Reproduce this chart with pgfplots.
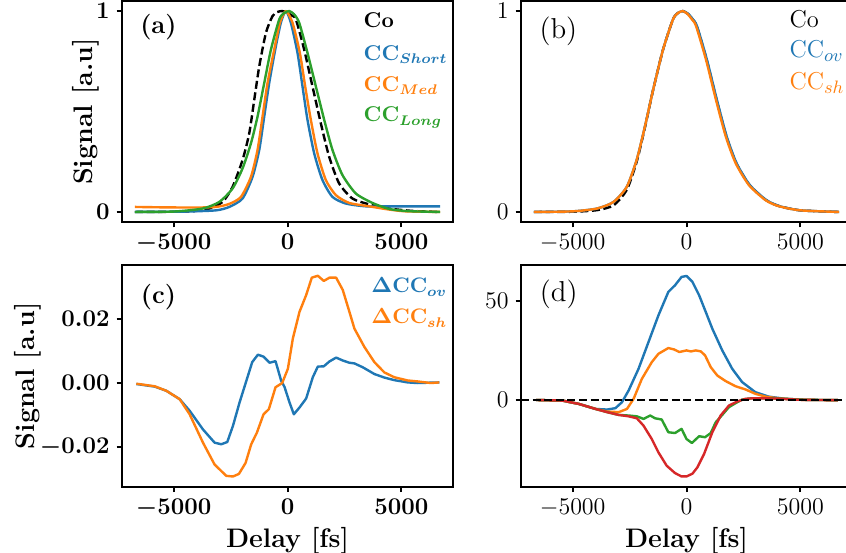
\documentclass[border=0pt]{standalone}
\usepackage{pgfplots}
\pgfplotsset{compat=1.18}
\definecolor{tabblue}{HTML}{1F77B4}
\definecolor{taborange}{HTML}{FF7F0E}
\definecolor{tabgreen}{HTML}{2CA02C}
\definecolor{tabred}{HTML}{D62728}
\pgfplotsset{
  base/.style={scale only axis, width=165.5pt, xmin=-7270, xmax=7270,
    xtick={-5000,0,5000}, axis line style={line width=1.3pt},
    every tick/.style={line width=1.0pt, black}, major tick length=2.7pt,
    tick align=outside, tick pos=left, /pgf/number format/1000 sep={},
    every axis plot/.append style={line width=1.2pt, line join=round}},
  boldtick/.style={tick label style={font=\fontsize{11.7}{14}\selectfont\boldmath}},
  regtick/.style={tick label style={font=\fontsize{12.9}{15}\selectfont}},
  ylab/.style={ylabel={Signal [a.u]}, ylabel style={font=\fontsize{13.4}{16}\selectfont\bfseries, at={(axis description cs:#1,0.5)}, anchor=center}},
  xlab/.style={xlabel={Delay [fs]}, xlabel style={font=\fontsize{13.4}{16}\selectfont\bfseries, at={(axis description cs:0.5,-0.245)}, anchor=center}},
}
\begin{document}
\begin{tikzpicture}
\useasboundingbox (0,0) rectangle (423pt,276pt);
% ---------------- (a)
\begin{axis}[base, boldtick, ylab=-0.109, at={(61pt,165pt)}, anchor=south west, height=110.5pt,
  ymin=-0.05, ymax=1.05, ytick={0,1}]
\addplot[black, dashed, dash pattern=on 4pt off 1.8pt, smooth, tension=0.4] coordinates {
(-6700,0) (-5000,0.001) (-4019,0.005) (-3434,0.017) (-2851,0.05) (-2412,0.125) (-1974,0.259)
(-1680,0.392) (-1460,0.559) (-1241,0.725) (-947,0.892) (-658,0.975) (-450,0.995) (-250,1.0)
(-50,0.995) (150,0.98) (368,0.958) (732,0.808) (1097,0.625) (1462,0.442) (1829,0.275)
(2268,0.142) (2851,0.067) (3583,0.038) (4460,0.017) (5500,0.005) (6700,0)};
\addplot[tabblue, smooth, tension=0.4] coordinates {
(-6700,0) (-4500,0.002) (-3140,0.008) (-2558,0.025) (-1974,0.067) (-1535,0.175) (-1241,0.309)
(-1022,0.475) (-803,0.642) (-540,0.808) (-292,0.942) (-73,1.0) (147,0.942) (439,0.792)
(658,0.625) (877,0.459) (1171,0.292) (1535,0.159) (1974,0.075) (2560,0.042) (3438,0.028)
(4500,0.028) (5500,0.028) (6700,0.028)};
\addplot[taborange, smooth, tension=0.4] coordinates {
(-6700,0.025) (-5500,0.023) (-4019,0.022) (-3140,0.025) (-2558,0.04) (-2044,0.075) (-1605,0.175)
(-1316,0.309) (-1096,0.475) (-877,0.642) (-583,0.808) (-333,0.942) (-73,1.0) (220,0.942)
(542,0.792) (776,0.625) (1024,0.459) (1316,0.292) (1683,0.159) (2122,0.084) (2706,0.045)
(3583,0.028) (4460,0.012) (5200,0.003) (6700,0)};
\addplot[tabgreen, smooth, tension=0.4] coordinates {
(-6700,0) (-5000,0.002) (-3728,0.017) (-2996,0.05) (-2412,0.117) (-1974,0.217) (-1605,0.342)
(-1316,0.475) (-1022,0.642) (-728,0.808) (-365,0.958) (-150,0.99) (73,1.0) (280,0.985)
(513,0.942) (877,0.792) (1245,0.625) (1610,0.459) (1974,0.309) (2412,0.184) (3000,0.092)
(3728,0.045) (4460,0.015) (5300,0.004) (6700,0)};
\node[anchor=west, inner sep=0pt, font=\fontsize{12.8}{15}\selectfont\bfseries] at (rel axis cs:0.054,0.882) {(a)};
\node[anchor=base west, inner sep=0pt, font=\fontsize{10.7}{13}\selectfont\bfseries\boldmath, black] at (rel axis cs:0.729,0.880) {Co};
\node[anchor=base west, inner sep=0pt, font=\fontsize{10.7}{13}\selectfont\bfseries\boldmath, tabblue] at (rel axis cs:0.729,0.733) {CC$_{Short}$};
\node[anchor=base west, inner sep=0pt, font=\fontsize{10.7}{13}\selectfont\bfseries\boldmath, taborange] at (rel axis cs:0.729,0.592) {CC$_{Med}$};
\node[anchor=base west, inner sep=0pt, font=\fontsize{10.7}{13}\selectfont\bfseries\boldmath, tabgreen] at (rel axis cs:0.729,0.453) {CC$_{Long}$};
\end{axis}
% ---------------- (b)
\begin{axis}[base, regtick, at={(260.5pt,165pt)}, anchor=south west, height=110.5pt,
  ymin=-0.05, ymax=1.05, ytick={0,1}]
\addplot[black, dashed, dash pattern=on 4pt off 1.8pt, smooth, tension=0.4] coordinates {
(-6700,0) (-5000,0.001) (-3929,0.009) (-3204,0.033) (-2624,0.11) (-2189,0.25) (-1827,0.42)
(-1466,0.608) (-1031,0.808) (-596,0.958) (-380,0.99) (-160,1.0) (75,0.985) (255,0.96)
(446,0.925) (881,0.758) (1317,0.559) (1752,0.375) (2187,0.242) (2765,0.134) (3492,0.059)
(4070,0.029) (5000,0.008) (6700,0)};
\addplot[tabblue, smooth, tension=0.4] coordinates {
(-6700,0) (-5000,0.003) (-3929,0.017) (-3204,0.05) (-2624,0.125) (-2189,0.259) (-1827,0.425)
(-1466,0.608) (-1031,0.808) (-596,0.958) (-380,0.99) (-160,1.0) (90,0.985) (270,0.96)
(461,0.925) (896,0.758) (1332,0.559) (1767,0.375) (2202,0.242) (2780,0.134) (3507,0.059)
(4085,0.029) (5000,0.008) (6700,0)};
\addplot[taborange, smooth, tension=0.4] coordinates {
(-6700,0) (-5000,0.003) (-3929,0.017) (-3204,0.05) (-2624,0.125) (-2189,0.259) (-1827,0.425)
(-1466,0.608) (-1031,0.808) (-596,0.958) (-380,0.99) (-160,1.0) (50,0.985) (230,0.96)
(421,0.925) (856,0.758) (1292,0.559) (1727,0.375) (2162,0.242) (2740,0.134) (3467,0.059)
(4045,0.029) (5000,0.008) (6700,0)};
\node[anchor=west, inner sep=0pt, font=\fontsize{14.4}{17}\selectfont] at (rel axis cs:0.055,0.865) {(b)};
\node[anchor=base west, inner sep=0pt, font=\fontsize{12.2}{14}\selectfont, black] at (rel axis cs:0.81,0.880) {Co};
\node[anchor=base west, inner sep=0pt, font=\fontsize{12.2}{14}\selectfont, tabblue] at (rel axis cs:0.81,0.744) {CC$_{ov}$};
\node[anchor=base west, inner sep=0pt, font=\fontsize{12.2}{14}\selectfont, taborange] at (rel axis cs:0.81,0.600) {CC$_{sh}$};
\end{axis}
% ---------------- (c)
\begin{axis}[base, boldtick, ylab=-0.284, xlab, at={(61pt,32.6pt)}, anchor=south west, height=111pt,
  ymin=-0.0322, ymax=0.0367, ytick={-0.02,0,0.02}, scaled y ticks=false,
  yticklabel style={/pgf/number format/.cd, fixed, fixed zerofill, precision=2}]
\addplot[tabblue] coordinates {
(-6640,-0.0003) (-5833,-0.0011) (-5322,-0.0024) (-4737,-0.005) (-4298,-0.0086) (-3713,-0.0144)
(-3202,-0.0185) (-2910,-0.019) (-2646,-0.0183) (-2397,-0.0133) (-2105,-0.006) (-1550,0.0065)
(-1301,0.0088) (-1053,0.0082) (-789,0.0063) (-526,0.0068) (-278,0.0007) (-132,-0.0012)
(88,-0.006) (278,-0.0097) (526,-0.0076) (819,-0.0048) (1111,0.0018) (1330,0.0051)
(1594,0.0052) (1842,0.0067) (2136,0.0079) (2427,0.007) (2719,0.0063) (2939,0.0061)
(3304,0.0049) (3816,0.0028) (4254,0.0017) (4693,0.0009) (5278,0.0002) (5716,0.0) (6667,0.0002)};
\addplot[taborange] coordinates {
(-6640,-0.0002) (-5833,-0.001) (-5322,-0.0024) (-4737,-0.005) (-4298,-0.0097) (-3713,-0.0185)
(-3202,-0.0253) (-2690,-0.0288) (-2397,-0.029) (-2135,-0.0282) (-1842,-0.0248) (-1594,-0.019)
(-1345,-0.0154) (-1053,-0.0097) (-819,-0.0081) (-526,-0.0013) (-234,0.0) (-132,0.0018)
(15,0.0044) (88,0.0075) (234,0.0138) (526,0.0221) (819,0.0273) (1067,0.0327) (1330,0.0333)
(1594,0.0317) (1842,0.0327) (2136,0.0327) (2427,0.0289) (2719,0.0221) (2939,0.0169)
(3377,0.0112) (3816,0.0065) (4254,0.0033) (4693,0.0018) (5278,0.0008) (5716,0.0005)
(6300,0.0) (6667,0.0002)};
\node[anchor=west, inner sep=0pt, font=\fontsize{12.8}{15}\selectfont\bfseries] at (rel axis cs:0.056,0.854) {(c)};
\node[anchor=base west, inner sep=0pt, font=\fontsize{10.5}{13}\selectfont\bfseries\boldmath, tabblue] at (rel axis cs:0.752,0.874) {$\Delta$CC$_{ov}$};
\node[anchor=base west, inner sep=0pt, font=\fontsize{10.5}{13}\selectfont\bfseries\boldmath, taborange] at (rel axis cs:0.752,0.734) {$\Delta$CC$_{sh}$};
\end{axis}
% ---------------- (d)
\begin{axis}[base, regtick, xlab, at={(260.5pt,32.6pt)}, anchor=south west, height=111pt,
  ymin=-43.5, ymax=68, ytick={0,50}]
\addplot[tabblue] coordinates {
(-6610,0.1) (-5450,-0.2) (-4722,-1.9) (-3994,-4.4) (-3488,-4.7) (-3122,-4.0) (-2834,-1.0)
(-2542,4.9) (-2106,15.8) (-1670,29.2) (-1234,42.6) (-798,54.4) (-506,57.7) (-218,61.9)
(0,62.4) (262,59.4) (554,52.7) (846,44.3) (1134,35.9) (1570,25.0) (2006,15.8) (2442,9.1)
(3026,4.0) (3606,1.8) (4334,0.7) (5200,0.2) (6650,0.0)};
\addplot[taborange] coordinates {
(-6610,0.1) (-5450,-0.2) (-4722,-1.9) (-3994,-4.4) (-3488,-5.7) (-2978,-6.0) (-2616,-4.4)
(-2324,0.7) (-1962,10.7) (-1526,19.1) (-1234,23.3) (-798,26.2) (-550,25.5) (-318,24.2)
(0,25.0) (192,24.5) (410,25.0) (628,24.5) (815,22.5) (1064,16.6) (1352,12.4) (1718,9.6)
(2154,7.0) (2590,5.4) (3026,3.2) (3462,1.8) (4045,0.9) (5000,0.2) (6650,0.0)};
\addplot[tabgreen] coordinates {
(-6610,0.1) (-5450,-0.2) (-4722,-1.9) (-3994,-4.4) (-3488,-6.0) (-2978,-7.4) (-2542,-7.7)
(-2180,-8.1) (-1888,-9.4) (-1596,-7.7) (-1378,-9.1) (-1090,-9.7) (-798,-16.1) (-506,-16.5)
(-218,-14.4) (0,-19.5) (235,-21.5) (554,-18.1) (815,-18.6) (1064,-16.5) (1282,-11.1)
(1570,-7.4) (1862,-3.5) (2154,-1.5) (2442,0.3) (2878,1.0) (3462,1.0) (4334,0.7) (5200,0.2)
(6650,0.0)};
\addplot[tabred] coordinates {
(-6610,0.1) (-5450,-0.2) (-4722,-1.9) (-3994,-4.4) (-3488,-6.0) (-2978,-7.4) (-2542,-8.1)
(-2180,-9.1) (-1888,-12.8) (-1526,-19.5) (-1234,-26.2) (-872,-32.9) (-506,-36.6) (-218,-38.3)
(0,-38.3) (262,-36.9) (480,-33.7) (772,-27.0) (1134,-16.1) (1500,-7.7) (1862,-2.7)
(2224,-0.7) (2590,0.7) (3026,1.0) (4000,0.8) (5000,0.2) (6650,0.0)};
\addplot[black, dashed, dash pattern=on 4pt off 1.8pt] coordinates {(-7270,0) (7270,0)};
\node[anchor=west, inner sep=0pt, font=\fontsize{14.4}{17}\selectfont] at (rel axis cs:0.056,0.866) {(d)};
\end{axis}
\end{tikzpicture}
\end{document}
